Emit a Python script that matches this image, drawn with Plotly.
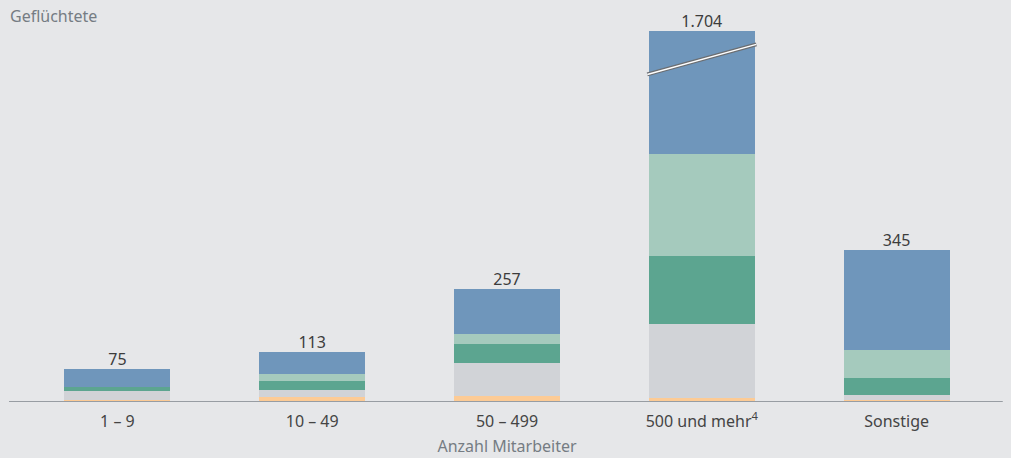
import plotly.graph_objects as go

categories = ["1 – 9", "10 – 49", "50 – 499", "500 und mehr<sup>4</sup>", "Sonstige"]
totals = [75, 113, 257, 1704, 345]
totals_label = ["75", "113", "257", "1.704", "345"]

# stacked segments, bottom to top
seg_dark = [0, 0, 0, 3, 0]
seg_orange = [5, 12, 13, 7, 4]
seg_gray = [20, 16, 75, 166, 11]
seg_darkgreen = [10, 20, 43, 155, 39]
seg_lightgreen = [0, 16, 23, 232, 64]
seg_blue = [40, 49, 103, 1141, 227]

series = [
    ("Gruppe 6", seg_dark, "#6b6e72"),
    ("Gruppe 5", seg_orange, "#fdcb95"),
    ("Gruppe 4", seg_gray, "#d1d3d7"),
    ("Gruppe 3", seg_darkgreen, "#5ca590"),
    ("Gruppe 2", seg_lightgreen, "#a5cabd"),
    ("Gruppe 1", seg_blue, "#6f96bb"),
]

y_cap = 842  # axis break: values above are truncated

BG = "#e6e7e9"
FONT = "Noto Sans"

fig = go.Figure()
xs = list(range(len(categories)))
for name, vals, col in series:
    fig.add_trace(go.Bar(
        x=xs, y=vals, name=name, marker=dict(color=col, line=dict(width=0)),
        hoverinfo="skip",
    ))

fig.add_trace(go.Scatter(
    x=xs, y=[min(t, y_cap) for t in totals], mode="text",
    text=totals_label, textposition="top center",
    textfont=dict(family=FONT, size=16, color="#3c3c3c"),
    cliponaxis=False, showlegend=False, hoverinfo="skip",
))

# axis break marker on the truncated bar
bi = totals.index(max(totals))
bx0, bx1 = bi - 0.28, bi + 0.28
by0, by1 = y_cap * 0.883, y_cap * 0.964
fig.add_shape(type="line", x0=bx0, x1=bx1, y0=by0, y1=by1, xref="x", yref="y",
              line=dict(color="#6b6e72", width=4))
fig.add_shape(type="line", x0=bx0, x1=bx1, y0=by0, y1=by1, xref="x", yref="y",
              line=dict(color="#ffffff", width=1.5))

# baseline
fig.add_shape(type="line", x0=-0.0113, x1=1.009, y0=0, y1=0, xref="paper", yref="y",
              line=dict(color="#989da3", width=2.2), layer="above")

fig.update_layout(
    width=1011, height=458,
    paper_bgcolor=BG, plot_bgcolor=BG,
    barmode="stack", bargap=0.456,
    margin=dict(l=20, r=17, t=31, b=56, autoexpand=False),
    showlegend=False,
    font=dict(family=FONT, color="#444444"),
    xaxis=dict(
        tickmode="array", tickvals=xs, ticktext=categories,
        range=[-0.5, len(categories) - 0.5],
        showgrid=False, zeroline=False, showline=False, ticks="",
        automargin=False,
        ticklabelstandoff=8,
        tickfont=dict(family=FONT, size=16, color="#444444"),
        title=dict(text="Anzahl Mitarbeiter", font=dict(family=FONT, size=16, color="#757c83"),
                   standoff=9),
    ),
    yaxis=dict(range=[0, y_cap], visible=False, fixedrange=True, automargin=False),
    annotations=[dict(
        text="Geflüchtete", xref="paper", yref="paper", x=-0.012, y=1.0,
        xanchor="left", yanchor="bottom", yshift=2, showarrow=False,
        font=dict(family=FONT, size=16, color="#757c83"),
    )],
)

fig.write_html(
    "out.html",
    config={"displayModeBar": False},
    post_script="document.body.style.margin='0';document.body.style.background='%s';" % BG,
)
